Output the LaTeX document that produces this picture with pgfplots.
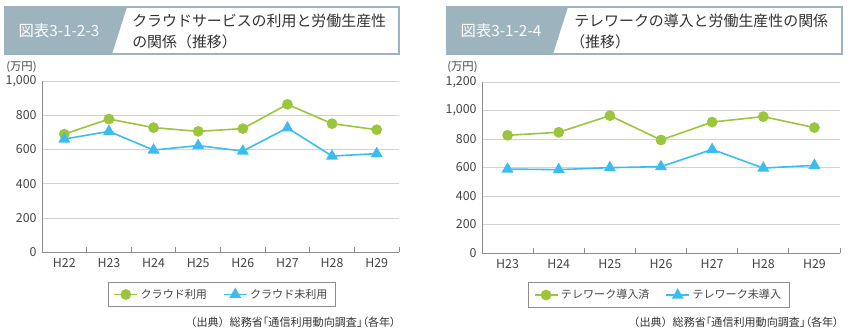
\documentclass[border=0pt]{standalone}
\usepackage{fontspec}
\setmainfont{Noto Sans CJK JP}
\newfontfamily\paltfont[RawFeature=+palt]{Noto Sans CJK JP}
\newfontfamily\fwfont{Noto Sans CJK JP}
\usepackage{pgfplots}
\pgfplotsset{compat=1.18}
\definecolor{cgreen}{HTML}{9BC53D}
\definecolor{cblue}{HTML}{3DBDEF}
\definecolor{tbox}{HTML}{9DB3BD}
\definecolor{gridc}{HTML}{D3D3D3}
\definecolor{axc}{HTML}{8C8C8C}
\definecolor{txt}{HTML}{444444}
\definecolor{ttl}{HTML}{333333}

\pgfplotsset{
 mystyle/.style={
  scale only axis,
  axis x line*=bottom, axis y line*=left,
  axis line style={-, axc, line width=0.7pt},
  ymajorgrids, grid style={gridc, line width=0.7pt},
  ytick style={draw=none},
  major tick length=0pt,
  extra x tick style={grid=none, major tick length=4pt, tick style={axc, line width=0.7pt}},
  extra x tick labels={},
  ticklabel style={font=\fontsize{9.3}{10}\selectfont, text=txt},
  yticklabel style={xshift=-0.5pt},
  xticklabel style={yshift=-1pt},
  /pgf/number format/.cd, 1000 sep={,}, assume math mode=true, /pgfplots/.cd,
  ymin=0,
  legend style={draw=axc, line width=0.6pt, font=\fontsize{8.3}{10}\selectfont, text=txt, anchor=center,
     inner xsep=4pt, inner ysep=3pt,
     /tikz/every even column/.append style={column sep=10pt}},
  legend columns=2,
  legend image post style={line width=1.2pt},
 },
 gline/.style={cgreen, line width=1.2pt, mark=*, mark size=3.4pt, mark options={fill=cgreen, draw=none}},
 bline/.style={cblue, line width=1.2pt, mark=triangle*, mark size=4pt, mark options={fill=cblue, draw=none}},
}

\begin{document}
\begin{tikzpicture}
\path[use as bounding box] (0,0) rectangle (637.5pt,249.75pt);

\begin{scope}[x=0.75pt, y=-0.75pt, shift={(0pt,249.75pt)}]
  % left title
  \fill[white] (5,7) rectangle (399,54);
  \fill[tbox] (5,7) -- (127,7) -- (112,54) -- (5,54) -- cycle;
  \draw[tbox, line width=0.8pt] (5,7) rectangle (399,54);
  \node[text=white, font=\fontsize{11.5}{13}\selectfont] at (59,31) {図表3-1-2-3};
  \node[anchor=west, inner sep=0pt, text=ttl, font=\fontsize{11.2}{13}\selectfont] at (132,21) {クラウドサービスの利用と労働生産性};
  \node[anchor=west, inner sep=0pt, text=ttl, font=\fontsize{11.2}{13}\selectfont] at (132,42) {の関係（推移）};
  % right title
  \fill[white] (447,7) rectangle (842,54);
  \fill[tbox] (447,7) -- (568,7) -- (553,54) -- (447,54) -- cycle;
  \draw[tbox, line width=0.8pt] (447,7) rectangle (842,54);
  \node[text=white, font=\fontsize{11.5}{13}\selectfont] at (501,31) {図表3-1-2-4};
  \node[anchor=west, inner sep=0pt, text=ttl, font=\fontsize{11.2}{13}\selectfont] at (574,21) {テレワークの導入と労働生産性の関係};
  \node[anchor=west, inner sep=0pt, text=ttl, font=\fontsize{11.2}{13}\selectfont] at (570,42) {（推移）};
  % units
  \node[anchor=west, inner sep=0pt, text=txt, font=\fontsize{8.5}{10}\selectfont] at (6,67) {(万円)};
  \node[anchor=west, inner sep=0pt, text=txt, font=\fontsize{8.5}{10}\selectfont] at (447,67) {(万円)};
  % sources
  \node[anchor=east, inner sep=0pt, text=ttl, font=\paltfont\fontsize{8.3}{10}\selectfont] at (396,322) {{\fwfont（出典）}総務省「通信利用動向調査」（各年）};
  \node[anchor=east, inner sep=0pt, text=ttl, font=\paltfont\fontsize{8.3}{10}\selectfont] at (839,322) {{\fwfont（出典）}総務省「通信利用動向調査」（各年）};
\end{scope}

% left chart
\begin{axis}[mystyle,
  at={(31.5pt,60.5pt)}, anchor=south west,
  width=267.75pt, height=128.5pt,
  xmin=-0.5, xmax=7.5, ymax=1000,
  ytick={0,200,400,600,800,1000},
  xtick={0,...,7},
  xticklabels={H22,H23,H24,H25,H26,H27,H28,H29},
  extra x ticks={0.5,1.5,2.5,3.5,4.5,5.5,6.5,7.5},
  legend style={at={(0.504,-0.246)}},
]
\addplot[gline] coordinates {(0,690) (1,778) (2,728) (3,706) (4,722) (5,864) (6,751) (7,716)};
\addlegendentry{クラウド利用}
\addplot[bline] coordinates {(0,661) (1,706) (2,597) (3,623) (4,591) (5,726) (6,562) (7,576)};
\addlegendentry{クラウド未利用}
\end{axis}

% right chart
\begin{axis}[mystyle,
  at={(361.5pt,60pt)}, anchor=south west,
  width=268.5pt, height=128.25pt,
  xmin=-0.5, xmax=6.5, ymax=1200,
  ytick={0,200,400,600,800,1000,1200},
  xtick={0,...,6},
  xticklabels={H23,H24,H25,H26,H27,H28,H29},
  extra x ticks={0.5,1.5,2.5,3.5,4.5,5.5,6.5},
  legend style={at={(0.494,-0.246)}},
]
\addplot[gline] coordinates {(0,826) (1,847) (2,964) (3,793) (4,919) (5,957) (6,880)};
\addlegendentry{テレワーク導入済}
\addplot[bline] coordinates {(0,589) (1,585) (2,599) (3,606) (4,727) (5,596) (6,615)};
\addlegendentry{テレワーク未導入}
\end{axis}
\end{tikzpicture}
\end{document}
